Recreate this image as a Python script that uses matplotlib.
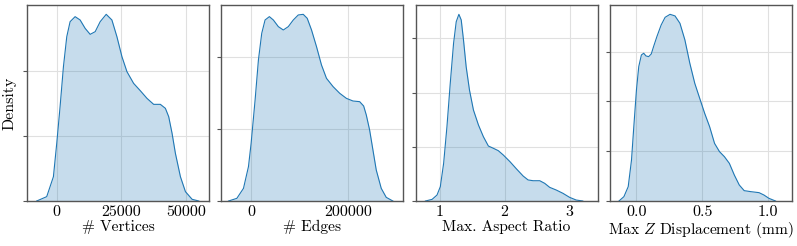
import matplotlib
matplotlib.use('Agg')
import matplotlib.pyplot as plt

# curvas de densidade (kde)
vert_x = [-7760, -3880, -1290, 0, 1290, 2590, 3880, 5170, 7110, 9050, 10990, 12930, 14870, 16810,
          19140, 21340, 23280, 25220, 27160, 29740, 32330, 34920, 37500, 40090, 42030, 43320,
          44620, 45910, 47850, 49790, 52380, 54970]
vert_y = [0, 0.067, 0.374, 0.887, 1.451, 2.067, 2.528, 2.759, 2.836, 2.785, 2.656, 2.564, 2.605, 2.759,
          2.872, 2.785, 2.528, 2.221, 1.990, 1.810, 1.697, 1.579, 1.487, 1.487, 1.426, 1.297,
          1.041, 0.733, 0.374, 0.144, 0.026, 0]  # x 1e-5

edge_x = [-46570, -29450, -15750, -5480, 0, 8220, 15070, 21920, 28770, 37670, 45890, 56160, 66440,
          76710, 86990, 97260, 107530, 115750, 124660, 134930, 145200, 155480, 169180, 182880,
          196580, 210270, 223970, 232190, 237670, 244520, 251370, 258210, 268490, 278770, 292470]
edge_y = [0, 0.074, 0.351, 0.952, 1.598, 2.799, 3.908, 4.647, 5.016, 5.109, 5.016, 4.832, 4.739,
          4.832, 5.016, 5.155, 5.173, 5.063, 4.739, 4.277, 3.769, 3.400, 3.169, 2.984,
          2.845, 2.771, 2.753, 2.633, 2.383, 1.968, 1.413, 0.859, 0.351, 0.102, 0]  # x 1e-6

aspect_x = [0.781, 0.883, 0.959, 1.010, 1.061, 1.112, 1.163, 1.214, 1.255, 1.296, 1.332, 1.367,
            1.408, 1.459, 1.520, 1.597, 1.673, 1.750, 1.827, 1.903, 1.980, 2.082, 2.184, 2.286,
            2.362, 2.439, 2.541, 2.617, 2.694, 2.796, 2.898, 3.000, 3.102, 3.204]
aspect_y = [0, 0.015, 0.055, 0.132, 0.347, 0.685, 1.085, 1.454, 1.653, 1.721, 1.669, 1.484,
            1.238, 1.023, 0.839, 0.701, 0.593, 0.507, 0.486, 0.464, 0.424, 0.363, 0.295, 0.230,
            0.194, 0.187, 0.187, 0.163, 0.126, 0.101, 0.071, 0.034, 0.009, 0]

zdisp_x = [-0.1325, -0.095, -0.0625, -0.0375, -0.02, 0.0, 0.0175, 0.0375, 0.055, 0.0725, 0.0925,
           0.1125, 0.13, 0.155, 0.1875, 0.2175, 0.255, 0.2925, 0.33, 0.3675, 0.405, 0.4425, 0.48,
           0.5175, 0.555, 0.5925, 0.63, 0.6675, 0.705, 0.7425, 0.78, 0.8175, 0.8675, 0.93,
           0.9675, 1.005, 1.055]
zdisp_y = [0, 0.044, 0.144, 0.412, 0.747, 1.115, 1.350, 1.467, 1.484, 1.457, 1.450,
           1.477, 1.551, 1.651, 1.768, 1.845, 1.875, 1.859, 1.785, 1.618, 1.383, 1.182, 1.031,
           0.881, 0.747, 0.579, 0.496, 0.445, 0.378, 0.261, 0.161, 0.104, 0.094, 0.084,
           0.060, 0.027, 0]

labels = ['# Vertices', '# Edges', 'Max. Aspect Ratio', r'Max $Z$ Displacement (mm)']
xticks = [[0, 25000, 50000], [0, 200000], [1, 2, 3], [0.0, 0.5, 1.0]]
xticklabels = [['0', '25000', '50000'], ['0', '200000'], ['1', '2', '3'], ['0.0', '0.5', '1.0']]
yticks = [[0, 1, 2], [0, 2, 4], [0, 0.5, 1.0, 1.5], [0, 0.5, 1.0, 1.5]]
xlims = [(-11500, 59000), (-61600, 314400), (0.628, 3.434), (-0.2025, 1.18)]

plt.rcParams['font.family'] = 'serif'
plt.rcParams['font.serif'] = ['cmr10']
plt.rcParams['mathtext.fontset'] = 'cm'
plt.rcParams['axes.formatter.use_mathtext'] = True

cor = '#1f77b4'
fig, axs = plt.subplots(1, 4, figsize=(7.97, 2.46), dpi=100)
fig.subplots_adjust(left=0.0339, right=0.9937, top=0.9797, bottom=0.1829, wspace=0.066)

dados = [(vert_x, vert_y), (edge_x, edge_y), (aspect_x, aspect_y), (zdisp_x, zdisp_y)]
for i, ax in enumerate(axs):
    x, y = dados[i]
    ax.fill_between(x, y, 0, color=cor, alpha=0.25, linewidth=0)
    ax.plot(x, y, color=cor, linewidth=0.8)
    ax.set_xlim(xlims[i])
    ax.set_ylim(0, max(y) * 1.05)
    ax.set_xticks(xticks[i])
    ax.set_xticklabels(xticklabels[i])
    ax.set_yticks(yticks[i])
    ax.set_yticklabels([])
    ax.grid(True, color='#e0e0e0', linewidth=0.8)
    ax.set_axisbelow(True)
    ax.tick_params(axis='x', length=0, labelsize=11.5, pad=3)
    ax.tick_params(axis='y', length=3, width=0.8, color='#555555')
    for s in ax.spines.values():
        s.set_color('#555555')
        s.set_linewidth(1.0)
    ax.set_xlabel(labels[i], fontsize=11.2, labelpad=1)

axs[0].set_ylabel('Density', fontsize=11.5, labelpad=1)

plt.savefig('out.png', dpi=100)
